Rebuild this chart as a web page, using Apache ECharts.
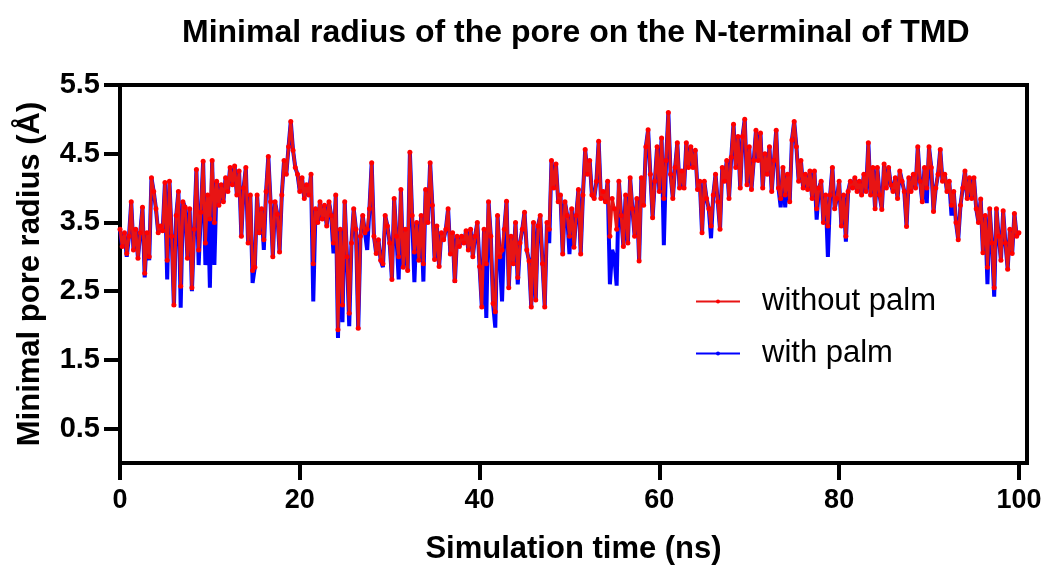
<!DOCTYPE html>
<html><head><meta charset="utf-8">
<script src="https://cdn.jsdelivr.net/npm/echarts@6/dist/echarts.min.js"></script>
<style>html,body{margin:0;padding:0;background:#fff;}#c{width:1045px;height:571px;}</style>
</head><body><div id="c"></div>
<script>
// time step 0.25 ns, 0..100 ns
const timeStep = 0.25;
const withoutPalm = [
3.40,3.15,3.35,3.05,3.30,3.80,3.10,3.40,2.98,3.35,3.72,2.76,3.35,3.00,4.15,3.95,3.70,3.35,3.45,3.38,
4.08,2.95,4.10,3.30,2.30,3.60,3.95,2.57,3.80,3.72,2.98,3.70,2.55,3.40,4.27,3.10,3.65,4.39,3.20,3.90,
3.55,4.40,3.50,4.10,3.75,4.05,3.80,4.15,3.95,4.30,4.05,4.32,3.90,4.25,3.30,4.00,4.30,3.20,3.90,2.80,
2.85,3.90,3.35,3.70,3.25,3.95,4.46,3.80,3.00,3.80,3.62,3.07,3.90,4.40,4.20,4.60,4.97,4.55,4.30,4.20,
3.95,4.15,3.85,4.05,3.90,4.20,2.90,3.70,3.50,3.80,3.55,3.75,3.45,3.80,3.60,3.20,3.90,1.94,3.40,2.30,
3.80,3.00,2.18,3.20,3.70,3.40,1.96,3.30,3.60,3.35,3.40,3.70,4.37,3.30,3.05,3.25,2.95,2.90,3.60,3.45,
3.20,2.67,3.85,3.30,3.00,3.98,2.85,3.40,2.80,4.52,3.60,3.07,3.50,2.95,3.60,2.90,3.98,3.50,4.37,3.75,
2.96,3.45,2.86,3.35,3.25,3.40,3.70,3.04,3.35,2.65,3.30,3.15,3.30,3.20,3.38,3.10,3.40,3.00,3.30,3.50,
2.86,2.27,3.40,2.90,3.80,3.30,2.32,2.20,3.60,3.00,3.10,3.40,3.81,2.55,3.30,2.90,3.50,2.70,3.20,3.40,
3.65,3.10,2.94,2.27,3.50,2.37,3.45,3.60,2.90,2.27,3.50,3.40,4.40,4.00,4.35,3.80,3.90,3.04,3.80,3.60,
3.30,3.70,3.14,3.60,3.98,3.04,3.90,4.56,4.20,4.40,3.90,3.85,4.10,4.68,3.85,3.95,3.80,4.10,3.30,3.85,
3.70,3.40,4.10,3.60,3.15,3.90,3.20,4.15,3.70,3.30,3.85,2.94,4.15,3.75,4.60,4.85,4.20,3.57,4.10,4.60,
3.95,4.73,3.85,4.40,5.10,4.20,3.85,4.30,4.66,4.00,4.25,4.00,4.66,4.30,4.60,4.30,4.55,3.98,4.10,3.35,
4.10,3.85,3.70,3.45,3.90,4.20,3.80,3.40,4.30,4.10,4.40,3.85,4.45,4.93,4.30,4.75,4.00,4.75,5.00,4.05,
4.60,3.98,4.40,4.84,4.40,4.80,4.00,4.50,4.20,4.60,3.95,4.40,4.84,4.00,3.85,4.30,3.90,4.20,3.80,4.70,
4.97,4.60,4.10,4.40,4.00,4.20,3.98,4.25,3.85,4.25,3.70,4.00,4.10,3.50,3.90,3.45,3.90,4.30,3.70,3.85,
4.10,3.45,3.90,3.30,3.95,4.10,4.00,4.15,3.95,4.10,3.90,4.20,3.95,4.66,3.90,4.30,3.70,4.30,3.90,3.69,
4.35,4.00,4.30,4.05,3.95,4.15,3.85,4.25,4.10,3.95,3.44,4.15,3.95,4.20,4.00,4.60,4.10,3.80,4.30,4.00,
4.60,4.30,3.66,4.00,4.20,4.56,4.10,4.20,3.95,4.10,3.75,3.95,3.50,3.25,3.75,4.00,4.25,3.85,4.15,3.85,
4.15,3.70,3.50,3.84,3.06,3.60,2.85,3.70,3.20,2.55,3.70,3.30,2.95,3.67,3.20,2.82,3.40,3.05,3.63,3.30,
3.35
];
const withPalm = [
3.40,3.15,3.35,3.00,3.30,3.80,3.10,3.40,2.98,3.35,3.72,2.70,3.35,2.95,4.15,3.95,3.70,3.35,3.45,3.38,
4.08,2.67,4.10,3.30,2.27,3.60,3.95,2.26,3.80,3.72,2.98,3.70,2.50,3.40,4.27,2.88,3.65,4.39,2.88,3.90,
2.55,4.40,2.88,4.10,3.75,4.05,3.80,4.15,3.95,4.30,4.05,4.32,3.90,4.25,3.30,4.00,4.30,3.20,3.90,2.62,
2.85,3.90,3.35,3.70,3.10,3.95,4.46,3.80,3.00,3.80,3.62,3.07,3.90,4.40,4.20,4.60,4.97,4.55,4.30,4.20,
3.95,4.15,3.85,4.05,3.90,4.20,2.35,3.70,3.50,3.80,3.55,3.75,3.45,3.80,3.60,3.05,3.90,1.82,3.40,2.05,
3.80,3.00,1.99,3.20,3.70,3.40,1.94,3.30,3.60,3.35,3.10,3.70,4.37,3.30,3.05,3.25,2.95,2.85,3.60,3.45,
3.20,2.67,3.85,3.30,2.67,3.98,2.85,3.40,2.80,4.52,3.60,2.63,3.50,2.95,3.60,2.64,3.98,3.50,4.37,3.75,
2.96,3.45,2.86,3.35,3.25,3.40,3.70,3.04,3.35,2.62,3.30,3.15,3.30,3.20,3.38,3.10,3.40,3.00,3.30,3.50,
2.86,2.27,3.40,2.11,3.80,3.30,2.32,1.97,3.60,3.00,2.35,3.40,3.81,2.55,3.30,2.90,3.50,2.60,3.20,3.40,
3.65,3.10,2.94,2.27,3.50,2.37,3.45,3.60,2.90,2.27,3.50,3.20,4.40,4.00,4.35,3.80,3.90,3.04,3.80,3.60,
3.04,3.70,3.14,3.60,3.98,3.04,3.90,4.56,4.20,4.40,3.90,3.85,4.10,4.68,3.85,3.95,3.80,4.10,2.60,3.10,
3.00,2.58,4.10,3.60,3.15,3.90,3.20,4.15,3.70,3.30,3.85,2.94,4.15,3.75,4.60,4.85,4.20,3.57,4.10,4.60,
3.95,4.73,3.17,4.40,5.10,4.20,3.85,4.30,4.66,4.00,4.25,4.00,4.66,4.30,4.60,4.30,4.55,3.98,4.10,3.35,
4.10,3.85,3.70,3.27,3.90,4.20,3.80,3.40,4.30,4.10,4.40,3.85,4.45,4.93,4.30,4.75,4.00,4.75,5.00,4.05,
4.60,3.98,4.40,4.84,4.40,4.80,4.00,4.50,4.20,4.60,3.95,4.40,4.84,4.00,3.72,4.30,3.72,4.20,3.80,4.70,
4.97,4.60,4.10,4.40,4.00,4.20,3.98,4.25,3.85,4.25,3.54,4.00,4.10,3.50,3.90,3.00,3.90,4.30,3.70,3.85,
4.10,3.45,3.90,3.22,3.95,4.10,4.00,4.15,3.95,4.10,3.90,4.20,3.95,4.66,3.90,4.30,3.70,4.30,3.90,3.69,
4.35,4.00,4.30,4.05,3.95,4.15,3.85,4.25,4.10,3.95,3.44,4.15,3.95,4.20,4.00,4.60,4.10,3.80,4.30,3.78,
4.60,4.30,3.66,4.00,4.20,4.56,4.10,4.20,3.95,4.10,3.60,3.95,3.50,3.25,3.75,4.00,4.25,3.85,4.15,3.85,
4.15,3.70,3.50,3.84,3.06,3.60,2.60,3.70,3.20,2.42,3.70,3.30,2.95,3.67,3.20,2.82,3.40,3.05,3.63,3.30,
3.35
];
const xTickValues = [0, 20, 40, 60, 80, 100];
const yTickValues = [0.5, 1.5, 2.5, 3.5, 4.5, 5.5];
const seriesNames = ['without palm', 'with palm'];
const titleText = 'Minimal radius of the pore on the N-terminal of TMD';
const xTitle = 'Simulation time (ns)';
const yTitle = 'Minimal pore radius (Å)';

const pairs = arr => arr.map((v, i) => [i * timeStep, v]);
const FONT = 'Liberation Sans, Arial, sans-serif';

const chart = echarts.init(document.getElementById('c'), null, {renderer: 'canvas'});
chart.setOption({
  animation: false,
  backgroundColor: '#ffffff',
  title: {
    text: titleText, left: 177, top: 12,
    textStyle: {fontFamily: FONT, fontSize: 32, fontWeight: 'bold', color: '#000'}
  },
  grid: {left: 120, right: 18, top: 85, bottom: 108, show: true, borderColor: '#000', borderWidth: 4, containLabel: false},
  legend: {
    orient: 'vertical', left: 690, top: 281, itemWidth: 44, itemHeight: 5, itemGap: 21,
    data: seriesNames,
    textStyle: {fontFamily: FONT, fontSize: 31, color: '#000', padding: [0, 0, 0, 17]}
  },
  xAxis: {
    type: 'value', min: 0, max: 100.9,
    name: xTitle, nameLocation: 'middle', nameGap: 71,
    nameTextStyle: {fontFamily: FONT, fontSize: 31, fontWeight: 'bold', color: '#000'},
    axisLine: {show: true, lineStyle: {color: '#000', width: 4}},
    axisTick: {show: true, inside: false, length: 17, customValues: xTickValues, lineStyle: {color: '#000', width: 4}},
    axisLabel: {fontFamily: FONT, fontSize: 27, fontWeight: 'bold', color: '#000', margin: 24,
      customValues: xTickValues},
    splitLine: {show: false}
  },
  yAxis: {
    type: 'value', min: 0, max: 5.5,
    name: yTitle, nameLocation: 'middle', nameGap: 74, nameRotate: 90,
    nameTextStyle: {fontFamily: FONT, fontSize: 31, fontWeight: 'bold', color: '#000'},
    axisLine: {show: true, lineStyle: {color: '#000', width: 4}},
    axisTick: {show: true, length: 16, customValues: yTickValues, lineStyle: {color: '#000', width: 4}},
    axisLabel: {fontFamily: FONT, fontSize: 29, fontWeight: 'bold', color: '#000', margin: 20,
      customValues: yTickValues, formatter: v => v.toFixed(1)},
    splitLine: {show: false}
  },
  series: [
    {
      name: 'with palm', type: 'line', data: pairs(withPalm),
      symbol: 'none',
      lineStyle: {color: '#0000ff', width: 4}, itemStyle: {color: '#0000ff'}, z: 2
    },
    {
      name: 'without palm', type: 'line', data: pairs(withoutPalm),
      showSymbol: true, symbol: 'circle', symbolSize: 5,
      lineStyle: {color: '#e81414', width: 3}, itemStyle: {color: '#ff0000'}, z: 3
    }
  ]
});
</script></body></html>
